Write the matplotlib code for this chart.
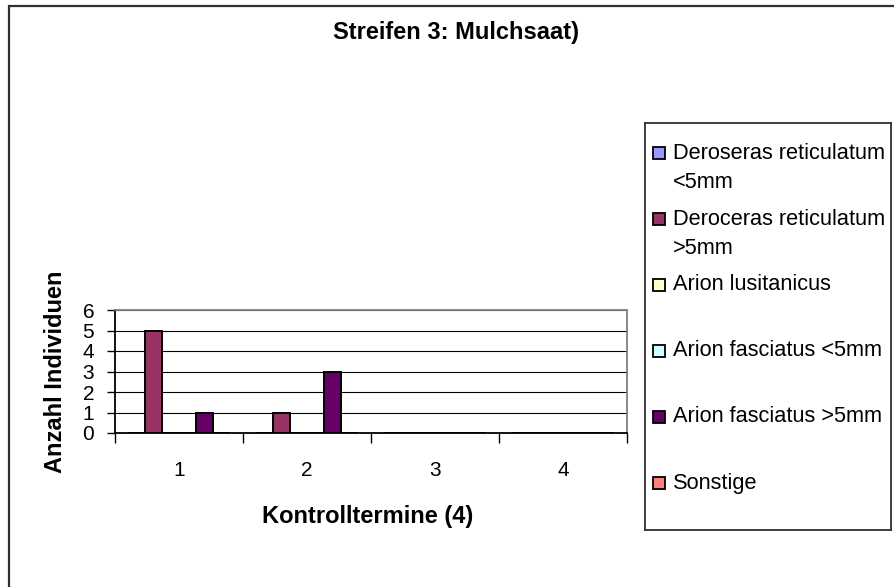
import numpy as np
import matplotlib.pyplot as plt
from matplotlib.patches import Rectangle

plt.rcParams['font.family'] = ['Liberation Sans', 'DejaVu Sans']

# Schneckenfunde je Kontrolltermin
termine = ['1', '2', '3', '4']
arten = ['Deroseras reticulatum\n<5mm', 'Deroceras reticulatum\n>5mm',
         'Arion lusitanicus', 'Arion fasciatus <5mm',
         'Arion fasciatus >5mm', 'Sonstige']
deroseras_klein = [0, 0, 0, 0]
deroceras_gross = [5, 1, 0, 0]
arion_lusitanicus = [0, 0, 0, 0]
arion_fasciatus_klein = [0, 0, 0, 0]
arion_fasciatus_gross = [1, 3, 0, 0]
sonstige = [0, 0, 0, 0]
farben = ['#9999FF', '#993366', '#FFFFCC', '#CCFFFF', '#660066', '#FF8080']

reihen = [deroseras_klein, deroceras_gross, arion_lusitanicus,
          arion_fasciatus_klein, arion_fasciatus_gross, sonstige]

W, H = 894, 587
fig = plt.figure(figsize=(W / 100, H / 100), dpi=100)

# Diagrammflaeche
ax = fig.add_axes([115 / W, (H - 433) / H, 512 / W, 123 / H])
x = np.arange(len(termine))
breite = 1 / 7.5
for i, (werte, farbe) in enumerate(zip(reihen, farben)):
    ax.bar(x + (i - 2.5) * breite, werte, breite, color=farbe,
           edgecolor='black', linewidth=1.4, zorder=3)

ax.set_xlim(-0.5, 3.5)
ax.set_ylim(0, 6)
ax.set_yticks(range(7))
ax.set_xticks(np.arange(-0.5, 4, 1))
ax.set_xticklabels([])
ax.set_xticks(x, minor=True)
ax.set_xticklabels(termine, minor=True, fontsize=15)
ax.tick_params(axis='x', which='major', length=7, width=1, direction='out')
ax.tick_params(axis='x', which='minor', length=0, pad=20)
ax.tick_params(axis='y', length=6, width=1, direction='out', pad=9,
               labelsize=15)
ax.yaxis.grid(True, color='black', linewidth=0.8, zorder=0)
ax.set_axisbelow(True)

for seite in ['left', 'bottom']:
    ax.spines[seite].set_color('black')
    ax.spines[seite].set_linewidth(1.3)
for seite in ['top', 'right']:
    ax.spines[seite].set_color('#808080')
    ax.spines[seite].set_linewidth(1.3)

ax.set_ylabel('Anzahl Individuen', fontsize=17, fontweight='bold')
ax.yaxis.set_label_coords((55 - 115) / 512, 0.5)
ax.yaxis.label.set_verticalalignment('center')
ax.set_xlabel('Kontrolltermine (4)', fontsize=17, fontweight='bold')
ax.xaxis.set_label_coords((368 - 115) / 512, (433 - 517) / 123)
ax.xaxis.label.set_verticalalignment('center')

fig.text(456 / W, 1 - 32 / H, 'Streifen 3: Mulchsaat)', ha='center',
         va='center', fontsize=17, fontweight='bold')

# Legende als eigener Kasten
lax = fig.add_axes([645 / W, (H - 530) / H, 246 / W, (530 - 123) / H])
lax.set_xlim(0, 246)
lax.set_ylim(530 - 123, 0)
lax.set_xticks([])
lax.set_yticks([])
for s in lax.spines.values():
    s.set_color('#303030')
    s.set_linewidth(1.3)
for i, (name, farbe) in enumerate(zip(arten, farben)):
    y0 = 30 + 66 * i
    lax.add_patch(Rectangle((8, y0 - 6), 12, 12, facecolor=farbe,
                            edgecolor='black', linewidth=1.3))
    for k, zeile in enumerate(name.split('\n')):
        lax.text(28, y0 + 29 * k, zeile, va='center', ha='left',
                 fontsize=15.7)

# Rahmen um das ganze Diagramm
fig.add_artist(Rectangle((9 / W, -0.2), 1.5, 1.2 - 6 / H,
                         transform=fig.transFigure, fill=False,
                         edgecolor='#303030', linewidth=1.6))

fig.savefig('out.png', dpi=100)
